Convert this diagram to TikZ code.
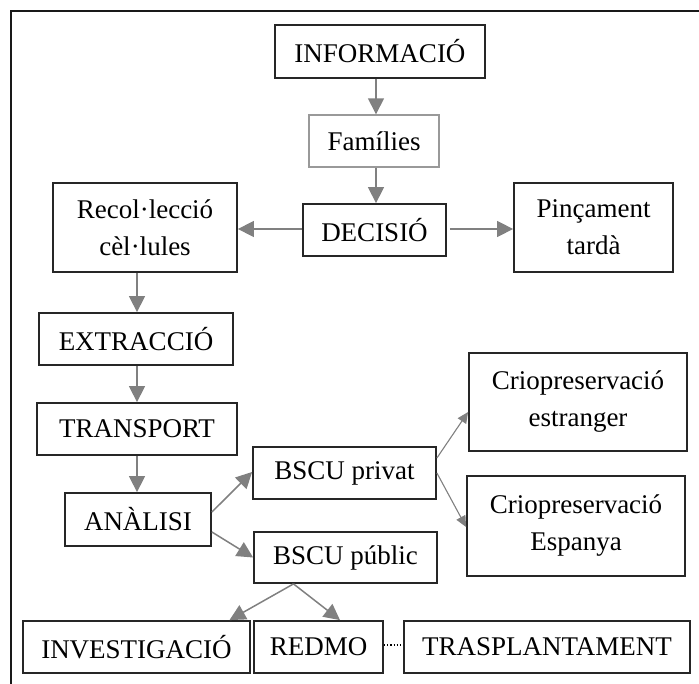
\documentclass[tikz,border=0pt]{standalone}
\usepackage{fontspec}
\setmainfont{Liberation Serif}
\usetikzlibrary{arrows.meta}
\begin{document}
\begin{tikzpicture}[x=1pt,y=-1pt,
  box/.style={draw=black!85,line width=1.8pt,inner sep=0pt,align=center,font=\fontsize{27}{37}\selectfont},
  graybox/.style={box,draw=gray!80,line width=1.4pt},
  arr/.style={draw=gray,line width=1.5pt,-{Triangle[length=16pt,width=16pt]}},
  thinarr/.style={draw=gray,line width=1.1pt,-{Triangle[length=11pt,width=10pt]}}]
\useasboundingbox (0,0) rectangle (699,684);
\draw [line width=2pt,black!90] (699,11) -- (11,11) -- (11,684);
\node [box,minimum width=210pt,minimum height=53pt] (info) at (380,51.5) {INFORMACIÓ};
\node [graybox,minimum width=130pt,minimum height=52pt] (fam) at (374,141) {Famílies};
\node [box,minimum width=143pt,minimum height=52pt] (dec) at (374.5,230) {DECISIÓ};
\node [box,minimum width=184pt,minimum height=89pt] (recol) at (145,227.5) {Recol·lecció\\cèl·lules};
\node [box,minimum width=159pt,minimum height=89pt] (pinc) at (593.5,227.5) {Pinçament\\tardà};
\node [box,minimum width=194pt,minimum height=52pt] (extr) at (136,339) {EXTRACCIÓ};
\node [box,minimum width=200pt,minimum height=52pt] (transp) at (137,429) {TRANSPORT};
\node [box,minimum width=146pt,minimum height=53pt] (anal) at (138,519.5) {ANÀLISI};
\node [box,minimum width=183pt,minimum height=52pt] (bpriv) at (344.5,473) {BSCU privat};
\node [box,minimum width=183pt,minimum height=51pt] (bpub) at (345.5,557.5) {BSCU públic};
\node [box,minimum width=218pt,minimum height=98pt] (cestr) at (578,402) {Criopreservació\\estranger};
\node [box,minimum width=218pt,minimum height=100pt] (cesp) at (576,526) {Criopreservació\\Espanya};
\node [box,minimum width=227pt,minimum height=52pt] (inv) at (136.5,647) {INVESTIGACIÓ};
\node [box,minimum width=129pt,minimum height=52pt] (redmo) at (318.5,647) {REDMO};
\node [box,minimum width=286pt,minimum height=52pt] (trasp) at (547,647) {TRASPLANTAMENT};
\draw [arr] ([xshift=2pt]info.south -| fam.north) -- ([xshift=2pt]fam.north);
\draw [arr] ([xshift=2pt]fam.south) -- ([xshift=2pt]fam.south |- dec.north);
\draw [arr] ([yshift=1pt]dec.west) -- ([yshift=1pt]dec.west -| recol.east);
\draw [arr] ([xshift=3pt,yshift=1pt]dec.east) -- ([yshift=1pt]dec.east -| pinc.west);
\draw [arr] ([xshift=1pt]extr.north |- recol.south) -- ([xshift=1pt]extr.north);
\draw [arr] ([xshift=1pt]extr.south) -- ([xshift=1pt]extr.south |- transp.north);
\draw [arr] (transp.south) -- (transp.south |- anal.north);
\draw [arr] ([yshift=7.5pt]anal.east) -- ([yshift=1pt]bpriv.west);
\draw [arr] ([yshift=-12.5pt]anal.east) -- (bpub.west);
\draw [thinarr] ([yshift=15pt]bpriv.east) -- ([yshift=-10pt]cestr.west);
\draw [thinarr] (bpriv.east) -- ([yshift=-1pt]cesp.west);
\draw [arr] ([xshift=-52pt]bpub.south) -- ([xshift=93pt]inv.north);
\draw [arr] ([xshift=-52pt]bpub.south) -- ([xshift=21.5pt]redmo.north);
\draw [dotted,line width=1.2pt] ([yshift=2pt]redmo.east) -- ([yshift=2pt]trasp.west);
\end{tikzpicture}
\end{document}
